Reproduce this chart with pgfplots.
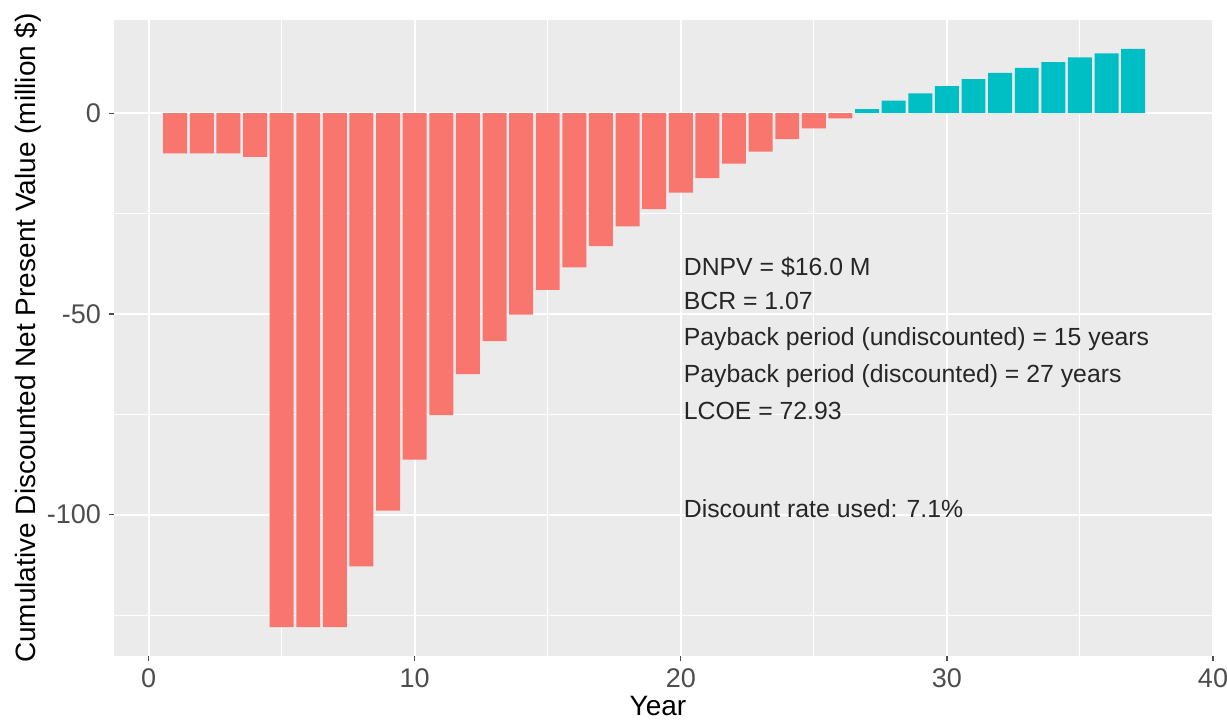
\documentclass[border=0pt]{standalone}
\usepackage{fontspec}
\setmainfont{Liberation Sans}
\usepackage{pgfplots}
\pgfplotsset{compat=1.18}

\definecolor{negbar}{HTML}{F8766D}
\definecolor{posbar}{HTML}{00BFC4}
\definecolor{panel}{HTML}{EBEBEB}
\definecolor{ticktext}{HTML}{4D4D4D}

\begin{document}
\begin{tikzpicture}
\begin{axis}[
    name=ax,
    scale only axis,
    width=549.5pt, height=318pt,
    xmin=-1.3, xmax=40, ymin=-135.2, ymax=23.2,
    axis background/.style={fill=panel},
    axis line style={draw=none},
    xtick={0,10,20,30,40}, minor xtick={5,15,25,35},
    ytick={-100,-50,0}, minor ytick={-125,-75,-25},
    xticklabels={0,10,20,30,40},
    yticklabels={-100,-50,0},
    tick pos=left,
    grid=both,
    major grid style={white, line width=1pt},
    minor grid style={white, line width=0.5pt},
    tick align=outside,
    major tick length=2.5pt, minor tick length=0pt,
    tick style={ticktext, line width=0.6pt},
    tick label style={font=\fontsize{13.5}{15}\selectfont, text=ticktext},
    xticklabel style={yshift=-0.5pt},
    yticklabel style={xshift=-0.5pt},
    xlabel={Year},
    ylabel={Cumulative Discounted Net Present Value (million \$)},
    label style={font=\fontsize{14}{16}\selectfont, text=black},
    xlabel style={at={(axis description cs:0.495,-0.079)}, anchor=center},
    ylabel style={at={(axis description cs:-0.078,0.5)}, anchor=center},
    ybar, bar width=0.9, bar shift=0pt,
    clip=false,
]
% years 1-26: still negative
\addplot[fill=negbar, draw=none] coordinates {
    (1,-10.0) (2,-10.0) (3,-10.0) (4,-10.9) (5,-128.0) (6,-128.0) (7,-128.0)
    (8,-112.9) (9,-99.0) (10,-86.3) (11,-75.2) (12,-65.0) (13,-56.8)
    (14,-50.2) (15,-44.0) (16,-38.4) (17,-33.1) (18,-28.2) (19,-23.9)
    (20,-19.8) (21,-16.2) (22,-12.6) (23,-9.6) (24,-6.5) (25,-3.8) (26,-1.3)
};
% years 27-37: paid back
\addplot[fill=posbar, draw=none] coordinates {
    (27,1.0) (28,3.1) (29,4.9) (30,6.7) (31,8.5) (32,10.0) (33,11.3)
    (34,12.7) (35,13.9) (36,14.9) (37,16.0)
};

\begin{scope}[every node/.style={anchor=west, inner sep=0pt, text=black!85,
    font=\fontsize{12.4}{14}\selectfont}]
\node at (axis cs:20.1,-38.3) {DNPV = \$16.0 M};
\node at (axis cs:20.1,-46.8) {BCR = 1.07};
\node at (axis cs:20.1,-56.2) {Payback period (undiscounted) = 15 years};
\node at (axis cs:20.1,-65.4) {Payback period (discounted) = 27 years};
\node at (axis cs:20.1,-74.1) {LCOE = 72.93};
\node at (axis cs:20.1,-98.5) {Discount rate used: 7.1\%};
\end{scope}
\end{axis}
\pgfresetboundingbox
\path ([shift={(-57pt,-33.5pt)}]ax.south west) rectangle ([shift={(7pt,10pt)}]ax.north east);
\end{tikzpicture}
\end{document}
